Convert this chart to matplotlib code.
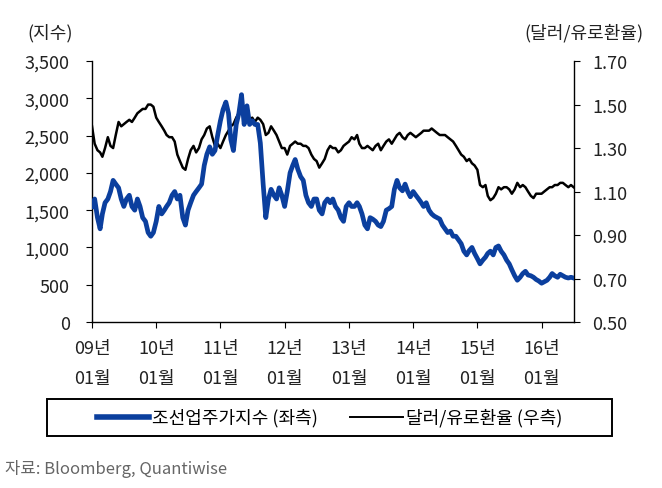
import matplotlib
matplotlib.use('Agg')
import matplotlib.pyplot as plt
from matplotlib.patches import Rectangle
import numpy as np
import datetime

plt.rcParams['font.family'] = ['Noto Sans CJK KR', 'DejaVu Sans']

# semi-monthly readings, Jan 2009 .. Jul 2016
ship_idx = [1550, 1650, 1400, 1250, 1450, 1600, 1650, 1750, 1900, 1850,
            1800, 1650, 1550, 1650, 1700, 1550, 1500, 1650, 1550, 1400,
            1350, 1200, 1150, 1200, 1350, 1550, 1450, 1500, 1550, 1600,
            1700, 1750, 1650, 1700, 1400, 1300, 1500, 1600, 1700, 1750,
            1800, 1850, 2100, 2250, 2350, 2250, 2300, 2500, 2700, 2850,
            2950, 2800, 2450, 2300, 2650, 2800, 3050, 2650, 2900, 2650,
            2700, 2650, 2650, 2400, 1850, 1400, 1650, 1780, 1700, 1650,
            1800, 1700, 1550, 1750, 2000, 2100, 2180, 2050, 1950, 1900,
            1700, 1600, 1550, 1650, 1650, 1500, 1450, 1600, 1650, 1600,
            1650, 1550, 1500, 1400, 1350, 1550, 1600, 1550, 1550, 1600,
            1550, 1450, 1300, 1250, 1400, 1380, 1350, 1300, 1280, 1350,
            1500, 1520, 1550, 1780, 1900, 1800, 1760, 1850, 1750, 1680,
            1750, 1700, 1650, 1600, 1550, 1600, 1500, 1450, 1420, 1400,
            1380, 1300, 1250, 1200, 1220, 1150, 1150, 1100, 1050, 950,
            900, 960, 1000, 920, 850, 780, 830, 870, 920, 950,
            900, 1000, 1020, 950, 900, 830, 780, 700, 620, 560,
            600, 650, 680, 630, 620, 600, 570, 550, 520, 540,
            560, 600, 650, 620, 600, 640, 620, 600, 590, 600,
            590]

eurusd = [1.40, 1.32, 1.29, 1.28, 1.26, 1.30, 1.35, 1.31, 1.30, 1.36,
          1.42, 1.40, 1.41, 1.42, 1.43, 1.42, 1.44, 1.46, 1.47, 1.48,
          1.48, 1.50, 1.50, 1.49, 1.44, 1.42, 1.40, 1.38, 1.36, 1.35,
          1.35, 1.33, 1.27, 1.24, 1.21, 1.20, 1.25, 1.29, 1.31, 1.28,
          1.30, 1.34, 1.36, 1.39, 1.40, 1.35, 1.31, 1.32, 1.30, 1.33,
          1.36, 1.38, 1.40, 1.41, 1.44, 1.46, 1.48, 1.44, 1.45, 1.43,
          1.44, 1.42, 1.44, 1.43, 1.41, 1.36, 1.37, 1.40, 1.38, 1.36,
          1.33, 1.30, 1.30, 1.27, 1.31, 1.32, 1.33, 1.32, 1.32, 1.31,
          1.31, 1.30, 1.27, 1.25, 1.24, 1.21, 1.23, 1.25, 1.29, 1.31,
          1.30, 1.30, 1.28, 1.29, 1.31, 1.32, 1.33, 1.35, 1.34, 1.36,
          1.32, 1.30, 1.30, 1.31, 1.30, 1.29, 1.31, 1.32, 1.29, 1.31,
          1.33, 1.34, 1.32, 1.34, 1.36, 1.37, 1.35, 1.34, 1.36, 1.37,
          1.36, 1.35, 1.36, 1.37, 1.38, 1.38, 1.38, 1.39, 1.38, 1.37,
          1.36, 1.36, 1.36, 1.35, 1.34, 1.33, 1.31, 1.29, 1.27, 1.26,
          1.24, 1.25, 1.23, 1.22, 1.20, 1.13, 1.12, 1.13, 1.08, 1.06,
          1.07, 1.09, 1.12, 1.11, 1.12, 1.12, 1.11, 1.09, 1.11, 1.14,
          1.12, 1.13, 1.12, 1.10, 1.08, 1.07, 1.09, 1.09, 1.09, 1.10,
          1.11, 1.12, 1.12, 1.13, 1.13, 1.14, 1.14, 1.13, 1.12, 1.13,
          1.12]

dates = []
for m in range(91):
    y, mo = 2009 + m // 12, m % 12 + 1
    dates.append(datetime.date(y, mo, 1))
    if m < 90:
        dates.append(datetime.date(y, mo, 16))

left_ticks = [0, 500, 1000, 1500, 2000, 2500, 3000, 3500]
right_ticks = [0.50, 0.70, 0.90, 1.10, 1.30, 1.50, 1.70]
year_ticks = [datetime.date(y, 1, 1) for y in range(2009, 2017)]
year_labels = ['%02d년\n01월' % (y % 100) for y in range(2009, 2017)]

blue = '#0b3f9e'
tc = '#222222'
fs = 13

fig = plt.figure(figsize=(6.62, 4.89), dpi=100)
ax = fig.add_axes([0.139, 0.3395, 0.728, 0.5335])
ax2 = ax.twinx()

l1, = ax.plot(dates, ship_idx, color=blue, lw=3.4, zorder=3)
l2, = ax2.plot(dates, eurusd, color='black', lw=1.8)
ax.set_zorder(ax2.get_zorder() + 1)
ax.patch.set_visible(False)

ax.set_ylim(0, 3500)
ax2.set_ylim(0.5, 1.7)
ax.set_xlim(datetime.date(2009, 1, 1), datetime.date(2016, 7, 3))
ax.set_yticks(left_ticks)
ax.set_yticklabels(['{:,}'.format(v) for v in left_ticks])
ax2.set_yticks(right_ticks)
ax2.set_yticklabels(['%.2f' % v for v in right_ticks])
ax.set_xticks(year_ticks)
ax.set_xticklabels(year_labels, linespacing=1.9)

for a in (ax, ax2):
    a.spines['top'].set_visible(False)
    for s in a.spines.values():
        s.set_linewidth(1.0)
ax.spines['right'].set_visible(False)
ax2.spines['left'].set_visible(False)
ax2.spines['bottom'].set_visible(False)

ax.tick_params(axis='y', length=4, pad=12, labelsize=fs, labelcolor=tc)
ax.tick_params(axis='x', length=4, pad=8, labelsize=fs, labelcolor=tc)
ax2.tick_params(axis='y', length=4, pad=9, labelsize=fs, labelcolor=tc)

fig.text(0.076, 0.932, '(지수)', fontsize=fs, color=tc, ha='center', va='center')
fig.text(0.882, 0.932, '(달러/유로환율)', fontsize=fs, color=tc, ha='center', va='center')

fig.patches.append(Rectangle((0.071, 0.106), 0.853, 0.076, transform=fig.transFigure,
                             fill=False, edgecolor='black', lw=1.4))
leg = fig.legend([l1, l2], ['조선업주가지수 (좌측)', '달러/유로환율 (우측)'],
                 loc='center', bbox_to_anchor=(0.4977, 0.144), ncol=2, frameon=False,
                 fontsize=fs, handlelength=2.9, handletextpad=0.15, columnspacing=1.8)
leg.get_lines()[0].set_linewidth(4.0)
leg.get_lines()[1].set_linewidth(1.4)

fig.text(0.008, 0.04, '자료: Bloomberg, Quantiwise', fontsize=12, color='#666666',
         ha='left', va='center')

fig.savefig('out.png', dpi=100)
